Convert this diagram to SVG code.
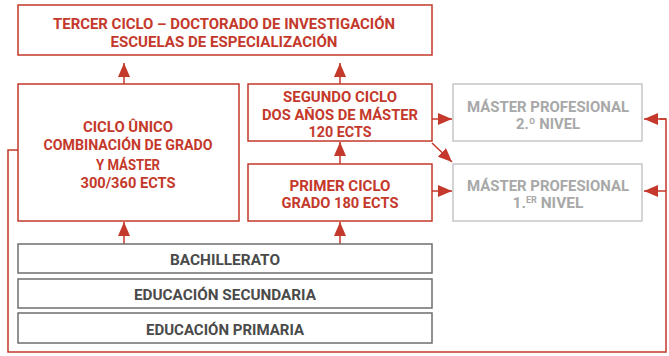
<svg xmlns="http://www.w3.org/2000/svg" width="669" height="356" viewBox="0 0 669 356">
<defs>
<style>
.r{fill:#fff;stroke:#c4392b;stroke-width:1.5}
.g{fill:#fff;stroke:#c6c6c6;stroke-width:1.5}
.k{fill:#fff;stroke:#6e6e6e;stroke-width:1.5}
text{font-family:Roboto,"Liberation Sans",sans-serif;font-weight:700;font-size:15.5px;text-anchor:middle}
.tr{fill:#c4392b}
.tg{fill:#a8a8a8}
.tk{fill:#4a4a4a}
.c{fill:none;stroke:#c4392b;stroke-width:1.5}
</style>
<marker id="a" markerUnits="userSpaceOnUse" markerWidth="14" markerHeight="12" refX="14" refY="6" orient="auto" viewBox="0 0 14 12">
<path d="M0,0 L14,6 L0,12 z" fill="#c4392b"/>
</marker>
</defs>
<g id="connectors">
<line class="c" x1="124" y1="84" x2="124" y2="63" marker-end="url(#a)"/>
<line class="c" x1="340" y1="84" x2="340" y2="63" marker-end="url(#a)"/>
<line class="c" x1="124" y1="244" x2="124" y2="222" marker-end="url(#a)"/>
<line class="c" x1="340" y1="244" x2="340" y2="222" marker-end="url(#a)"/>
<line class="c" x1="340" y1="164" x2="340" y2="142" marker-end="url(#a)"/>
<line class="c" x1="432" y1="119" x2="452" y2="119" marker-end="url(#a)"/>
<line class="c" x1="432" y1="143" x2="452" y2="162" marker-end="url(#a)"/>
<line class="c" x1="432" y1="191" x2="452" y2="191" marker-end="url(#a)"/>
<polyline class="c" points="18,150 8,150 8,352 666,352 666,119 660,119"/>
<line class="c" x1="666" y1="119" x2="644" y2="119" marker-end="url(#a)"/>
<line class="c" x1="666" y1="191" x2="644" y2="191" marker-end="url(#a)"/>
</g>
<g id="tercer">
<rect class="r" x="18" y="5" width="414" height="50"/>
<text class="tr" x="224" y="29" textLength="342" lengthAdjust="spacingAndGlyphs">TERCER CICLO – DOCTORADO DE INVESTIGACIÓN</text>
<text class="tr" x="224" y="47" textLength="227" lengthAdjust="spacingAndGlyphs">ESCUELAS DE ESPECIALIZACIÓN</text>
</g>
<g id="ciclo-unico">
<rect class="r" x="18" y="84" width="221" height="137"/>
<text class="tr" x="128" y="132" textLength="90" lengthAdjust="spacingAndGlyphs">CICLO ÛNICO</text>
<text class="tr" x="128" y="150" textLength="169" lengthAdjust="spacingAndGlyphs">COMBINACIÓN DE GRADO</text>
<text class="tr" x="128" y="170" textLength="64" lengthAdjust="spacingAndGlyphs">Y MÁSTER</text>
<text class="tr" x="128" y="188" textLength="95" lengthAdjust="spacingAndGlyphs">300/360 ECTS</text>
</g>
<g id="segundo">
<rect class="r" x="248" y="84" width="184" height="57"/>
<text class="tr" x="340" y="102" textLength="114" lengthAdjust="spacingAndGlyphs">SEGUNDO CICLO</text>
<text class="tr" x="340" y="120" textLength="156" lengthAdjust="spacingAndGlyphs">DOS AÑOS DE MÁSTER</text>
<text class="tr" x="340" y="137" textLength="63" lengthAdjust="spacingAndGlyphs">120 ECTS</text>
</g>
<g id="primer">
<rect class="r" x="248" y="164" width="184" height="57"/>
<text class="tr" x="340" y="191" textLength="101" lengthAdjust="spacingAndGlyphs">PRIMER CICLO</text>
<text class="tr" x="340" y="208" textLength="117" lengthAdjust="spacingAndGlyphs">GRADO 180 ECTS</text>
</g>
<g id="master2">
<rect class="g" x="453" y="84" width="189" height="57"/>
<text class="tg" x="548" y="112" textLength="162" lengthAdjust="spacingAndGlyphs">MÁSTER PROFESIONAL</text>
<text class="tg" x="548" y="129" textLength="64" lengthAdjust="spacingAndGlyphs">2.º NIVEL</text>
</g>
<g id="master1">
<rect class="g" x="453" y="164" width="189" height="57"/>
<text class="tg" x="548" y="191" textLength="162" lengthAdjust="spacingAndGlyphs">MÁSTER PROFESIONAL</text>
<text class="tg" x="548" y="208">1.<tspan font-size="9" dy="-5">ER</tspan><tspan dy="5"> NIVEL</tspan></text>
</g>
<g id="bachillerato">
<rect class="k" x="18" y="244" width="414" height="29"/>
<text class="tk" x="225" y="265" textLength="110" lengthAdjust="spacingAndGlyphs">BACHILLERATO</text>
</g>
<g id="secundaria">
<rect class="k" x="18" y="279" width="414" height="29"/>
<text class="tk" x="225" y="300" textLength="182" lengthAdjust="spacingAndGlyphs">EDUCACIÓN SECUNDARIA</text>
</g>
<g id="primaria">
<rect class="k" x="18" y="313" width="414" height="30"/>
<text class="tk" x="225" y="335" textLength="158" lengthAdjust="spacingAndGlyphs">EDUCACIÓN PRIMARIA</text>
</g>
</svg>
